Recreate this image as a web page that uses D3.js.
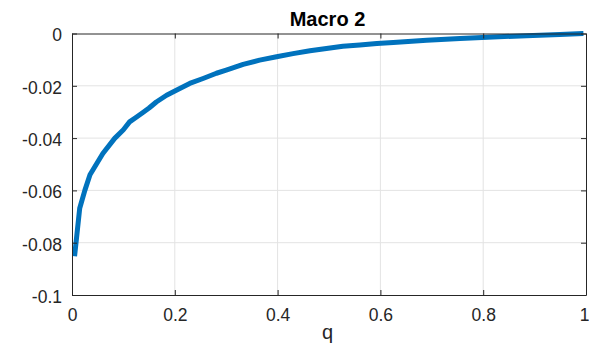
<!DOCTYPE html>
<html>
<head>
<meta charset="utf-8">
<script src="https://cdn.jsdelivr.net/npm/d3@7"></script>
<style>
  html, body { margin: 0; padding: 0; background: #fff; }
  svg { display: block; font-family: "Liberation Sans", Arial, Helvetica, sans-serif; }
</style>
</head>
<body>
<svg id="chart" width="589" height="354"></svg>
<script>
// q grid and the Macro 2 response
const qValues = [0.005, 0.015, 0.025, 0.035, 0.060, 0.083, 0.100, 0.112, 0.125, 0.138,
  0.150, 0.164, 0.184, 0.203, 0.229, 0.255, 0.281, 0.300, 0.333, 0.365,
  0.398, 0.430, 0.463, 0.495, 0.527, 0.560, 0.593, 0.625, 0.690, 0.755,
  0.819, 0.884, 0.949, 0.995];
const macroValues = [-0.0852, -0.0668, -0.0600, -0.0540, -0.0459, -0.0401, -0.0368, -0.0338, -0.0320, -0.0302,
  -0.0285, -0.0262, -0.0236, -0.0217, -0.0191, -0.0172, -0.0152, -0.0140, -0.0118, -0.0102,
  -0.0089, -0.0077, -0.0066, -0.0057, -0.0049, -0.0044, -0.0038, -0.0034, -0.0026, -0.0019,
  -0.0013, -0.0009, -0.0004, -0.0000];

const xTicks = [0, 0.2, 0.4, 0.6, 0.8, 1];
const yTicks = [0, -0.02, -0.04, -0.06, -0.08, -0.1];
const titleText = "Macro 2";
const xLabelText = "q";

const plotLeft = 72, plotRight = 586, plotTop = 33.5, plotBottom = 295;
const axisColor = "#262626";
const gridColor = "#e3e3e3";
const tickFont = 17.5;

const svg = d3.select("#chart");

const x = d3.scaleLinear().domain([0, 1]).range([plotLeft, plotRight]);
const y = d3.scaleLinear().domain([-0.1, 0]).range([plotBottom, plotTop]);

const fmt = v => (v === 0 ? "0" : String(+v.toFixed(2)));

// grid
const grid = svg.append("g");
grid.selectAll("line.gx").data(xTicks.slice(1, -1)).join("line")
  .attr("x1", d => x(d)).attr("x2", d => x(d))
  .attr("y1", plotTop).attr("y2", plotBottom)
  .attr("stroke", gridColor).attr("stroke-width", 1);
grid.selectAll("line.gy").data(yTicks.slice(1, -1)).join("line")
  .attr("x1", plotLeft).attr("x2", plotRight)
  .attr("y1", d => y(d)).attr("y2", d => y(d))
  .attr("stroke", gridColor).attr("stroke-width", 1);

// curve
const line = d3.line()
  .x((d, i) => x(qValues[i]))
  .y(d => y(d));
svg.append("path")
  .datum(macroValues)
  .attr("d", line)
  .attr("fill", "none")
  .attr("stroke", "#0072BD")
  .attr("stroke-width", 5)
  .attr("stroke-linejoin", "round")
  .attr("stroke-linecap", "butt");

// axes with inward ticks on all four sides
function styleAxis(g) {
  g.select(".domain").attr("stroke", axisColor).attr("stroke-width", 1);
  g.selectAll(".tick line").attr("stroke", axisColor).attr("stroke-width", 1);
  g.selectAll(".tick text").attr("fill", axisColor).attr("font-size", tickFont);
}

const xAxisG = svg.append("g")
  .attr("transform", `translate(0,${plotBottom})`)
  .call(d3.axisBottom(x).tickValues(xTicks).tickFormat(fmt).tickSizeInner(-5).tickSizeOuter(0).tickPadding(13.5))
  .call(styleAxis);
// keep the last label inside the page edge
xAxisG.selectAll(".tick text").filter(d => d === 1)
  .attr("text-anchor", "end").attr("dx", 3);

svg.append("g")
  .attr("transform", `translate(${plotLeft},0)`)
  .call(d3.axisLeft(y).tickValues(yTicks).tickFormat(fmt).tickSizeInner(-5).tickSizeOuter(0).tickPadding(10))
  .call(styleAxis)
  .selectAll(".tick text").attr("dy", "0.42em");

svg.append("g")
  .attr("transform", `translate(0,${plotTop})`)
  .call(d3.axisTop(x).tickValues(xTicks).tickFormat("").tickSizeInner(-5).tickSizeOuter(0))
  .call(styleAxis);

svg.append("g")
  .attr("transform", `translate(${plotRight},0)`)
  .call(d3.axisRight(y).tickValues(yTicks).tickFormat("").tickSizeInner(-5).tickSizeOuter(0))
  .call(styleAxis);

// title and axis label
svg.append("text")
  .attr("x", 327.5).attr("y", 26)
  .attr("text-anchor", "middle")
  .attr("font-size", 20).attr("font-weight", "bold")
  .attr("fill", "#000")
  .text(titleText);

svg.append("text")
  .attr("x", 327.5).attr("y", 339)
  .attr("text-anchor", "middle")
  .attr("font-size", 20)
  .attr("fill", axisColor)
  .text(xLabelText);
</script>
</body>
</html>
